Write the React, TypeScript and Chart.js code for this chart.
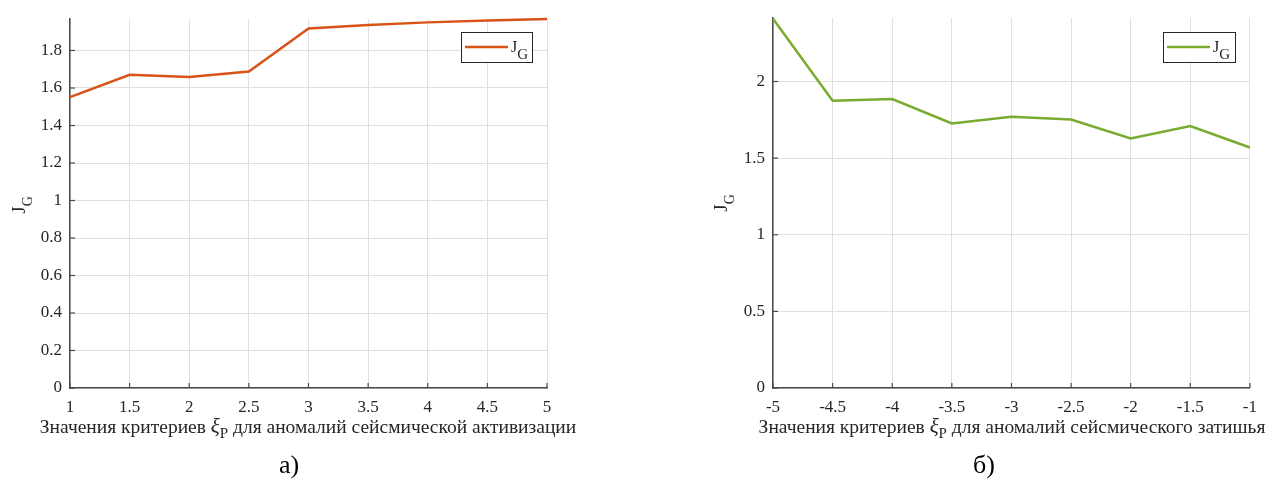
import React, { useEffect, useRef } from "react";
import { Chart, registerables } from "chart.js";

Chart.register(...registerables);

// ---- data ----
const xActivation = [1, 1.5, 2, 2.5, 3, 3.5, 4, 4.5, 5];
const jgActivation = [1.551, 1.67, 1.659, 1.688, 1.917, 1.936, 1.95, 1.96, 1.968];
const xQuiet = [-5, -4.5, -4, -3.5, -3, -2.5, -2, -1.5, -1];
const jgQuiet = [2.41, 1.874, 1.885, 1.726, 1.77, 1.752, 1.628, 1.709, 1.569];

const seriesName = "J";
const seriesSub = "G";
const xTitleActivation = ["Значения критериев ", "ξ", "P", " для аномалий сейсмической активизации"];
const xTitleQuiet = ["Значения критериев ", "ξ", "P", " для аномалий сейсмического затишья"];
const captionA = "а)";
const captionB = "б)";

const FONT = "'Liberation Serif', 'Times New Roman', serif";
const TEXT = "#262626";
const AXIS = "#4a4a4a";
const GRID = "#e0e0e0";

type Extra = {
  legend: { x: number; y: number; w: number; h: number };
  yTitleX: number;
  yTitleY: number;
  xTitleCenter: number;
  xTitle: string[];
  caption: string;
  captionX: number;
  color: string;
};

const decor = {
  id: "decor",
  afterDraw(chart: any, _args: any, opts: Extra) {
    const ctx = chart.ctx as CanvasRenderingContext2D;
    const a = chart.chartArea;
    const xs = chart.scales.x;
    const ys = chart.scales.y;
    ctx.save();
    // inward ticks
    ctx.strokeStyle = AXIS;
    ctx.lineWidth = 1.2;
    xs.ticks.forEach((t: any) => {
      const px = xs.getPixelForValue(t.value);
      ctx.beginPath();
      ctx.moveTo(px, a.bottom);
      ctx.lineTo(px, a.bottom - 5);
      ctx.stroke();
    });
    ys.ticks.forEach((t: any) => {
      const py = ys.getPixelForValue(t.value);
      ctx.beginPath();
      ctx.moveTo(a.left, py);
      ctx.lineTo(a.left + 5, py);
      ctx.stroke();
    });
    // legend
    const L = opts.legend;
    ctx.fillStyle = "#ffffff";
    ctx.fillRect(L.x, L.y, L.w, L.h);
    ctx.strokeStyle = "#262626";
    ctx.lineWidth = 1;
    ctx.strokeRect(L.x + 0.5, L.y + 0.5, L.w, L.h);
    ctx.strokeStyle = opts.color;
    ctx.lineWidth = 2.5;
    ctx.beginPath();
    ctx.moveTo(L.x + 4, L.y + 15);
    ctx.lineTo(L.x + 47, L.y + 15);
    ctx.stroke();
    ctx.fillStyle = TEXT;
    ctx.textBaseline = "alphabetic";
    ctx.textAlign = "left";
    ctx.font = `16px ${FONT}`;
    ctx.fillText(seriesName, L.x + 50, L.y + 20);
    const jw = ctx.measureText(seriesName).width;
    ctx.font = `15px ${FONT}`;
    ctx.fillText(seriesSub, L.x + 50 + jw, L.y + 27);
    // y title
    ctx.save();
    ctx.translate(opts.yTitleX, opts.yTitleY);
    ctx.rotate(-Math.PI / 2);
    ctx.font = `19px ${FONT}`;
    const w1 = ctx.measureText(seriesName).width;
    ctx.font = `14px ${FONT}`;
    const w2 = ctx.measureText(seriesSub).width;
    const sx = -(w1 + w2) / 2;
    ctx.font = `19px ${FONT}`;
    ctx.fillText(seriesName, sx, 0);
    ctx.font = `14px ${FONT}`;
    ctx.fillText(seriesSub, sx + w1, 7);
    ctx.restore();
    // x title
    const parts = opts.xTitle;
    const fonts = [`19.5px ${FONT}`, `italic 21px ${FONT}`, `15px ${FONT}`, `19.5px ${FONT}`];
    const offs = [0, 0, 5, 0];
    const widths = parts.map((p, i) => {
      ctx.font = fonts[i];
      return ctx.measureText(p).width;
    });
    const total = widths.reduce((s, v) => s + v, 0);
    let cx = opts.xTitleCenter - total / 2;
    const by = 433;
    parts.forEach((p, i) => {
      ctx.font = fonts[i];
      ctx.fillText(p, cx, by + offs[i]);
      cx += widths[i];
    });
    // caption
    ctx.font = `26px ${FONT}`;
    ctx.textAlign = "center";
    ctx.fillStyle = "#000000";
    ctx.fillText(opts.caption, opts.captionX, 473);
    ctx.restore();
  },
};

function fmt(v: number) {
  return String(Number(Number(v).toFixed(2)));
}

function makeConfig(
  xs: number[],
  ys: number[],
  xMin: number,
  xMax: number,
  yMax: number,
  yStep: number,
  padding: any,
  extra: Extra
): any {
  return {
    type: "line",
    data: {
      datasets: [
        {
          data: xs.map((x, i) => ({ x, y: ys[i] })),
          borderColor: extra.color,
          borderWidth: 2.5,
          pointRadius: 0,
          tension: 0,
          clip: 4,
        },
      ],
    },
    options: {
      animation: false,
      responsive: false,
      maintainAspectRatio: false,
      layout: { padding },
      plugins: {
        legend: { display: false },
        tooltip: { enabled: false },
        decor: extra,
      },
      scales: {
        x: {
          type: "linear",
          min: xMin,
          max: xMax,
          ticks: {
            stepSize: 0.5,
            autoSkip: false,
            maxRotation: 0,
            padding: 9,
            color: TEXT,
            font: { family: FONT, size: 17 },
            callback: (v: number) => fmt(v),
          },
          grid: { color: GRID, drawTicks: false, lineWidth: 1 },
          border: { color: AXIS, width: 1.5 },
          afterFit: (s: any) => {
            s.height = 50;
          },
        },
        y: {
          type: "linear",
          min: 0,
          max: yMax,
          ticks: {
            stepSize: yStep,
            includeBounds: false,
            padding: 8,
            color: TEXT,
            font: { family: FONT, size: 17 },
            callback: (v: number) => fmt(v),
          },
          grid: { color: GRID, drawTicks: false, lineWidth: 1 },
          border: { color: AXIS, width: 1.5 },
          afterFit: (s: any) => {
            s.width = 70;
          },
        },
      },
    },
    plugins: [decor],
  };
}

function ChartBox(props: { left: number; config: any }) {
  const ref = useRef<HTMLCanvasElement | null>(null);
  useEffect(() => {
    if (!ref.current) return;
    const c = new Chart(ref.current, props.config);
    return () => c.destroy();
  }, []);
  return (
    <canvas
      ref={ref}
      width={633}
      height={480}
      style={{ position: "absolute", left: props.left, top: 0, width: 633, height: 480, display: "block" }}
    />
  );
}

export default function App() {
  const cfgA = makeConfig(
    xActivation,
    jgActivation,
    1,
    5,
    1.968,
    0.2,
    { left: 0, right: 86, top: 19, bottom: 42 },
    {
      legend: { x: 461, y: 32, w: 71, h: 30 },
      yTitleX: 25,
      yTitleY: 205,
      xTitleCenter: 308,
      xTitle: xTitleActivation,
      caption: captionA,
      captionX: 289,
      color: "#D95319",
    }
  );
  const cfgB = makeConfig(
    xQuiet,
    jgQuiet,
    -5,
    -1,
    2.413,
    0.5,
    { left: 70, right: 16, top: 18, bottom: 42 },
    {
      legend: { x: 1163 - 633, y: 32, w: 72, h: 30 },
      yTitleX: 727 - 633,
      yTitleY: 203,
      xTitleCenter: 1012 - 633,
      xTitle: xTitleQuiet,
      caption: captionB,
      captionX: 984 - 633,
      color: "#77AC30",
    }
  );
  return (
    <div style={{ position: "absolute", left: 0, top: 0, width: 1266, height: 480, background: "#fff", overflow: "hidden" }}>
      <ChartBox left={0} config={cfgA} />
      <ChartBox left={633} config={cfgB} />
    </div>
  );
}
